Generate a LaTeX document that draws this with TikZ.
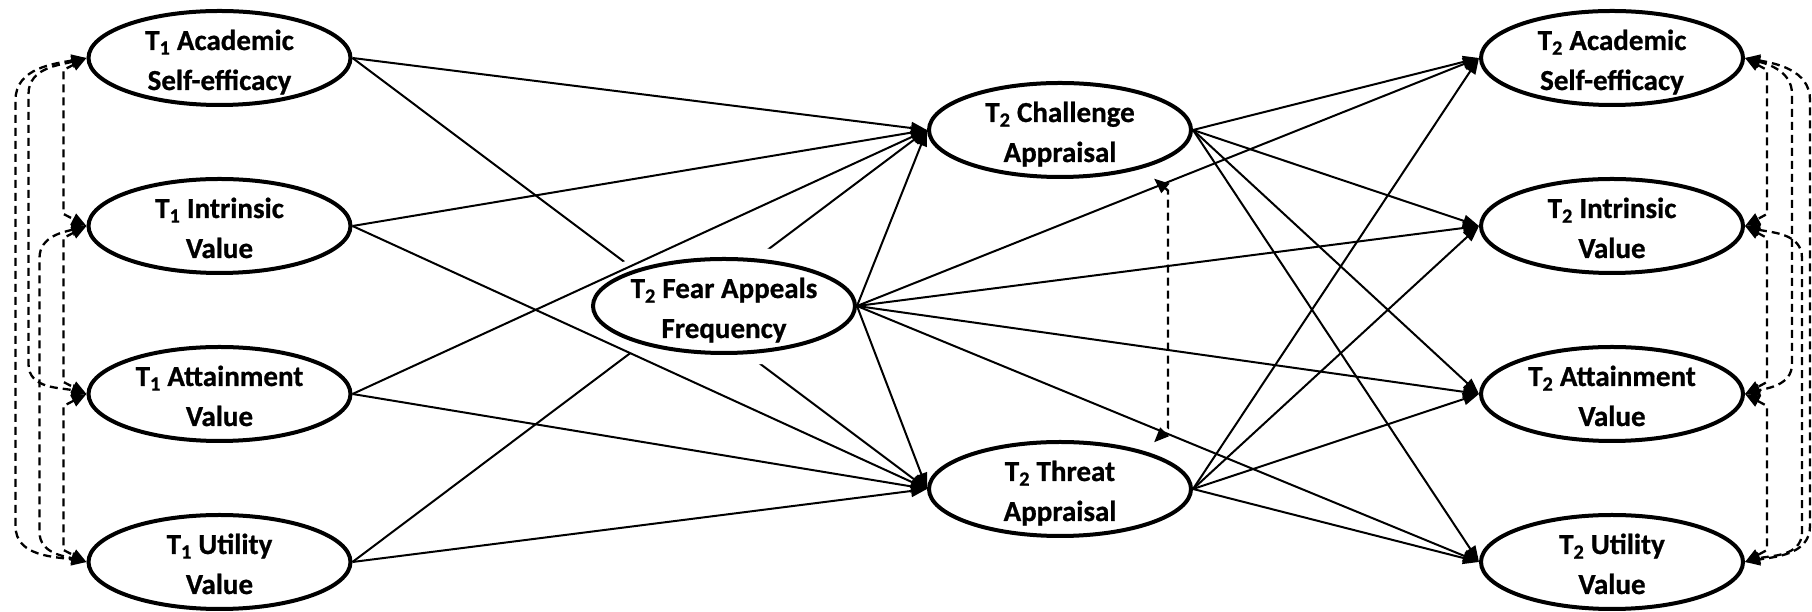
\documentclass[tikz,border=0pt]{standalone}
\usepackage{fontspec}
\setmainfont{Carlito}[BoldFeatures={FakeBold=0.8}]
\usetikzlibrary{arrows.meta,calc,shapes.geometric}

\newcommand{\tsub}[1]{T\textsubscript{#1}}
\newcommand{\twolines}[2]{\rule{0pt}{31pt}#1\\#2\rule[-7pt]{0pt}{7pt}}

\tikzset{
  construct/.style={draw, ellipse, line width=4pt, fill=white,
    minimum width=262pt, minimum height=94pt, inner xsep=-5pt, inner ysep=-14pt,
    align=center, font=\fontsize{29}{40}\selectfont\bfseries},
  halo/.style={preaction={draw=white, line width=26pt}},
  effect/.style={draw, line width=2pt, -{Triangle[length=16pt,width=12pt]}},
  covar/.style={line width=2.3pt, dash pattern=on 8pt off 5pt,
    {Triangle[length=15pt,width=12pt]}-{Triangle[length=15pt,width=12pt]}}
}

\begin{document}
\begin{tikzpicture}[x=1pt,y=1pt]
        \useasboundingbox (0,0) rectangle (1812,612);
        \clip (0,0) rectangle (1812,612);

        % T1 constructs
        \node[construct] (t1ase) at (219.5,554) {\twolines{\tsub{1} Academic}{Self-efficacy}};
        \node[construct] (t1iv) at (219.5,386) {\twolines{\tsub{1} Intrinsic}{Value}};
        \node[construct] (t1atv) at (219.5,218) {\twolines{\tsub{1} Attainment}{Value}};
        \node[construct] (t1uv) at (219.5,50) {\twolines{\tsub{1} Utility}{Value}};

        % the two appraisals
        \node[construct] (chal) at (1060,482) {\twolines{\tsub{2} Challenge}{Appraisal}};
        \node[construct] (threat) at (1060,123) {\twolines{\tsub{2} Threat}{Appraisal}};

        % T2 constructs
        \node[construct] (t2ase) at (1612,554) {\twolines{\tsub{2} Academic}{Self-efficacy}};
        \node[construct] (t2iv) at (1612,386) {\twolines{\tsub{2} Intrinsic}{Value}};
        \node[construct] (t2atv) at (1612,218) {\twolines{\tsub{2} Attainment}{Value}};
        \node[construct] (t2uv) at (1612,50) {\twolines{\tsub{2} Utility}{Value}};

        % the two lines that run behind the fear node
        \path (t1ase.east) edge[effect] (threat.west);
        \path (t1uv.east) edge[effect] (chal.west);

        % fear appeals
        \node[construct, halo] (fear) at (724,306) {\twolines{\tsub{2} Fear Appeals}{Frequency}};

        % T1 -> appraisals
        \path (t1ase.east) edge[effect] (chal.west);
        \path (t1iv.east) edge[effect] (chal.west) edge[effect] (threat.west);
        \path (t1atv.east) edge[effect] (chal.west) edge[effect] (threat.west);
        \path (t1uv.east) edge[effect] (threat.west);

        \path (fear.east) edge[effect] (chal.west) edge[effect] (threat.west)
          edge[effect] (t2ase.west) edge[effect] (t2iv.west)
          edge[effect] (t2atv.west) edge[effect] (t2uv.west);

        % appraisals -> T2
        \path (chal.east) edge[effect] (t2ase.west) edge[effect] (t2iv.west)
          edge[effect] (t2atv.west) edge[effect] (t2uv.west);
        \path (threat.east) edge[effect] (t2ase.west) edge[effect] (t2iv.west)
          edge[effect] (t2atv.west) edge[effect] (t2uv.west);

        % Covariances on the left
        \draw[covar] (t1ase.west) -- ++(-23,-12) -- ($(t1iv.west)+(-23,12)$) -- (t1iv.west);
        \draw[covar] (t1iv.west) -- ++(-23,-12) -- ($(t1atv.west)+(-23,12)$) -- (t1atv.west);
        \draw[covar] (t1atv.west) -- ++(-23,-12) -- ($(t1uv.west)+(-23,12)$) -- (t1uv.west);
        \draw[covar] (t1ase.west) to[out=195,in=90] ($(t1ase.west)+(-58,-36)$)
          -- ($(t1atv.west)+(-58,30)$) to[out=-90,in=165] (t1atv.west);
        \draw[covar] (t1iv.west) to[out=195,in=90] ($(t1iv.west)+(-47,-32)$)
          -- ($(t1uv.west)+(-47,30)$) to[out=-90,in=165] (t1uv.west);
        \draw[covar] (t1ase.west) to[out=190,in=90] ($(t1ase.west)+(-71,-42)$)
          -- ($(t1uv.west)+(-71,36)$) to[out=-90,in=170] (t1uv.west);

        % Covariances on the right
        \draw[covar] (t2ase.east) -- ++(22,-12) -- ($(t2iv.east)+(22,12)$) -- (t2iv.east);
        \draw[covar] (t2iv.east) -- ++(22,-12) -- ($(t2atv.east)+(22,12)$) -- (t2atv.east);
        \draw[covar] (t2atv.east) -- ++(22,-12) -- ($(t2uv.east)+(22,12)$) -- (t2uv.east);
        \draw[covar] (t2ase.east) to[out=-15,in=90] ($(t2ase.east)+(47,-36)$)
          -- ($(t2atv.east)+(47,30)$) to[out=-90,in=15] (t2atv.east);
        \draw[covar] (t2iv.east) to[out=-15,in=90] ($(t2iv.east)+(57,-32)$)
          -- ($(t2uv.east)+(57,30)$) to[out=-90,in=15] (t2uv.east);
        \draw[covar] (t2ase.east) to[out=-10,in=90] ($(t2ase.east)+(65,-42)$)
          -- ($(t2uv.east)+(65,36)$) to[out=-90,in=10] (t2uv.east);

        % Challenge with threat
        \draw[covar] ([yshift=-14pt]chal.south east) -- ++(14,-12)
          -- ($(threat.north east)+(14,26)$) -- ([yshift=12pt]threat.north east);
      \end{tikzpicture}
\end{document}
